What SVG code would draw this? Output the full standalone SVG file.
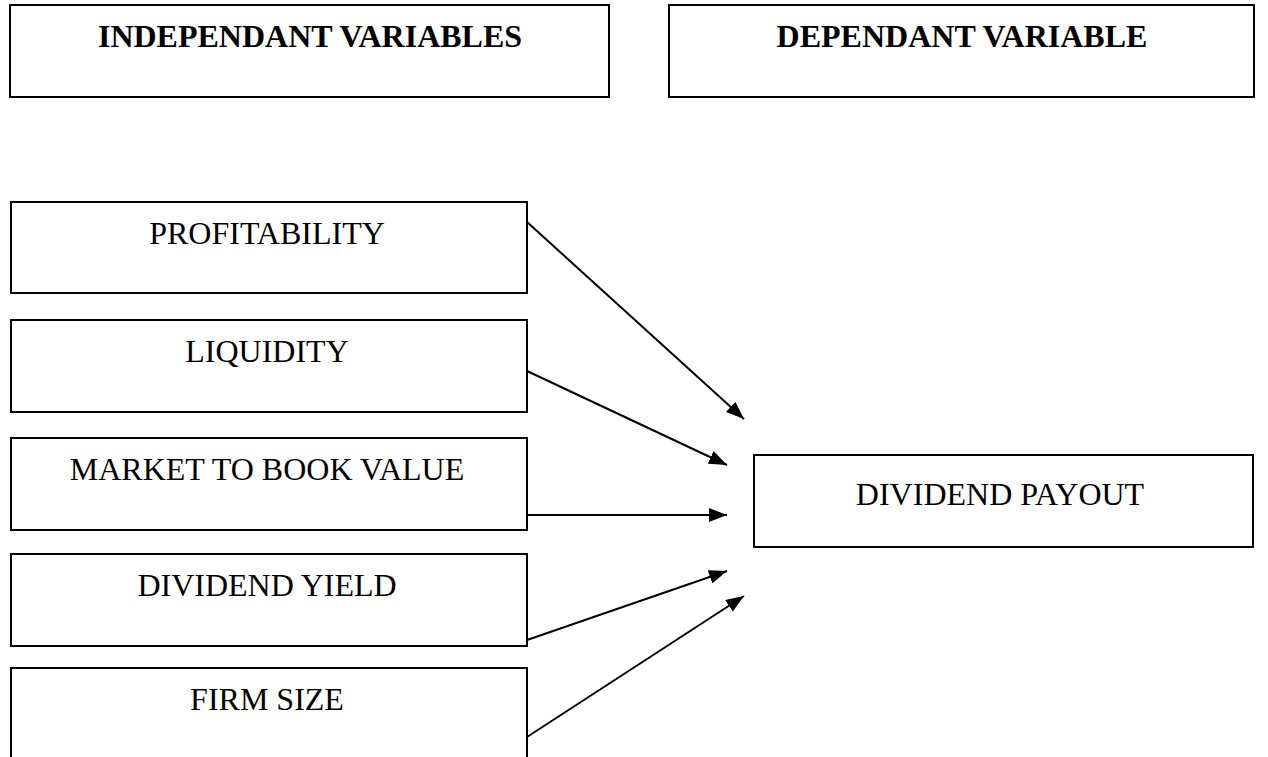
<svg xmlns="http://www.w3.org/2000/svg" width="1268" height="757" viewBox="0 0 1268 757">
<style>
.box{fill:#fff;stroke:#000;stroke-width:2}
.t{font-family:"Liberation Serif","Times New Roman",serif;font-size:32px;text-anchor:middle;fill:#000}
.b{font-weight:bold}
.c{stroke:#000;stroke-width:2;fill:none;marker-end:url(#ah)}
</style>
<defs>
<marker id="ah" markerWidth="18" markerHeight="14" refX="18" refY="7" orient="auto" markerUnits="userSpaceOnUse">
<path d="M0,0 L18,7 L0,14 Z" fill="#000"/>
</marker>
</defs>
<rect width="1268" height="757" fill="#fff"/>
<g id="hdr-indep"><rect class="box" x="10" y="5" width="599" height="92"/><text class="t b" x="310" y="47">INDEPENDANT VARIABLES</text></g>
<g id="hdr-dep"><rect class="box" x="669" y="5" width="585" height="92"/><text class="t b" x="962" y="47">DEPENDANT VARIABLE</text></g>
<g id="profitability"><rect class="box" x="11" y="202" width="516" height="91"/><text class="t" x="267" y="244">PROFITABILITY</text></g>
<g id="liquidity"><rect class="box" x="11" y="320" width="516" height="92"/><text class="t" x="267" y="362">LIQUIDITY</text></g>
<g id="market"><rect class="box" x="11" y="438" width="516" height="92"/><text class="t" x="267" y="480">MARKET TO BOOK VALUE</text></g>
<g id="yield"><rect class="box" x="11" y="554" width="516" height="92"/><text class="t" x="267" y="596">DIVIDEND YIELD</text></g>
<g id="firmsize"><rect class="box" x="11" y="668" width="516" height="100"/><text class="t" x="267" y="710">FIRM SIZE</text></g>
<g id="payout"><rect class="box" x="754" y="455" width="499" height="92"/><text class="t" x="1000" y="505">DIVIDEND PAYOUT</text></g>
<g id="connectors">
<line class="c" x1="527" y1="222" x2="744" y2="419"/>
<line class="c" x1="527" y1="371" x2="727" y2="465"/>
<line class="c" x1="527" y1="515" x2="727" y2="515"/>
<line class="c" x1="527" y1="640" x2="727" y2="571"/>
<line class="c" x1="527" y1="737" x2="744" y2="596"/>
</g>
</svg>
